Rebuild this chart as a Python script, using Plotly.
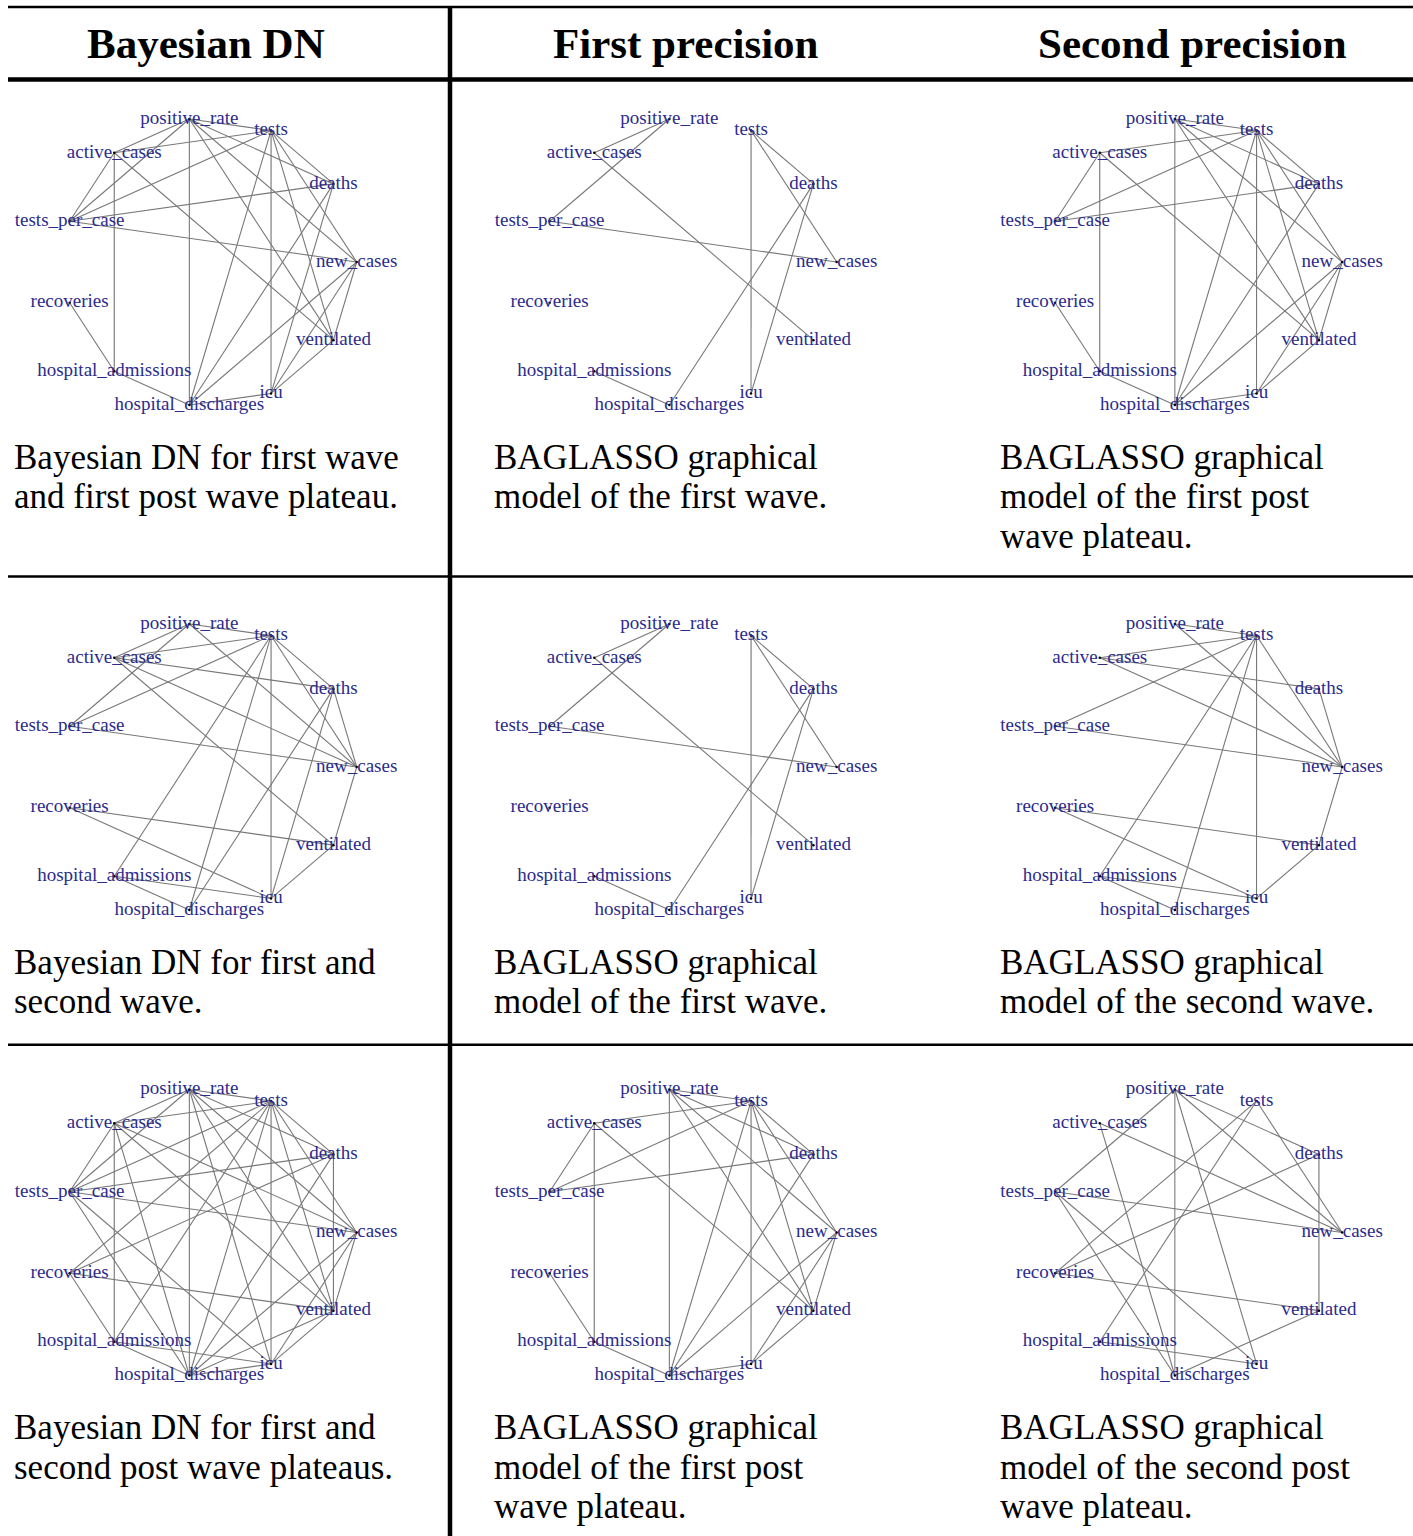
import math
import plotly.graph_objects as go

# ---------------- data ----------------
nodes = ["positive_rate", "tests", "deaths", "new_cases", "ventilated", "icu",
         "hospital_discharges", "hospital_admissions", "recoveries",
         "tests_per_case", "active_cases"]

headers = ["Bayesian DN", "First precision", "Second precision"]

edges_r1c1 = [("positive_rate", "active_cases"), ("positive_rate", "tests_per_case"), ("positive_rate", "tests"),
              ("positive_rate", "hospital_discharges"), ("positive_rate", "deaths"), ("positive_rate", "new_cases"),
              ("positive_rate", "ventilated"), ("active_cases", "tests"), ("active_cases", "tests_per_case"),
              ("active_cases", "hospital_admissions"), ("active_cases", "ventilated"), ("tests", "tests_per_case"),
              ("tests", "deaths"), ("tests", "icu"), ("tests", "hospital_discharges"), ("tests", "ventilated"),
              ("tests", "new_cases"), ("tests_per_case", "deaths"), ("tests_per_case", "new_cases"),
              ("deaths", "hospital_discharges"), ("deaths", "icu"), ("new_cases", "hospital_discharges"),
              ("new_cases", "icu"), ("new_cases", "ventilated"), ("ventilated", "icu"),
              ("recoveries", "hospital_admissions"), ("hospital_admissions", "hospital_discharges"),
              ("hospital_discharges", "icu")]

edges_r1c2 = [("positive_rate", "active_cases"), ("positive_rate", "tests_per_case"), ("active_cases", "ventilated"),
              ("tests_per_case", "new_cases"), ("tests", "icu"), ("tests", "deaths"), ("tests", "new_cases"),
              ("deaths", "hospital_discharges"), ("deaths", "icu"), ("hospital_admissions", "hospital_discharges")]

edges_r1c3 = [("positive_rate", "tests"), ("positive_rate", "hospital_discharges"), ("positive_rate", "deaths"),
              ("positive_rate", "new_cases"), ("positive_rate", "ventilated"), ("active_cases", "tests"),
              ("active_cases", "tests_per_case"), ("active_cases", "hospital_admissions"), ("active_cases", "ventilated"),
              ("tests", "tests_per_case"), ("tests", "deaths"), ("tests", "icu"), ("tests", "hospital_discharges"),
              ("tests", "ventilated"), ("tests", "new_cases"), ("tests_per_case", "deaths"),
              ("deaths", "hospital_discharges"), ("new_cases", "hospital_discharges"), ("new_cases", "icu"),
              ("new_cases", "ventilated"), ("ventilated", "icu"), ("recoveries", "hospital_admissions"),
              ("hospital_admissions", "hospital_discharges"), ("hospital_discharges", "icu")]

edges_r2c1 = [("positive_rate", "active_cases"), ("positive_rate", "tests_per_case"), ("positive_rate", "tests"),
              ("positive_rate", "new_cases"), ("active_cases", "tests"), ("active_cases", "deaths"),
              ("active_cases", "new_cases"), ("active_cases", "ventilated"), ("tests", "tests_per_case"),
              ("tests", "deaths"), ("tests", "new_cases"), ("tests", "icu"), ("tests", "hospital_admissions"),
              ("tests", "hospital_discharges"), ("tests_per_case", "new_cases"), ("deaths", "new_cases"),
              ("deaths", "hospital_discharges"), ("deaths", "icu"), ("new_cases", "ventilated"),
              ("ventilated", "icu"), ("recoveries", "ventilated"), ("recoveries", "icu"),
              ("hospital_admissions", "icu"), ("hospital_admissions", "hospital_discharges")]

edges_r2c2 = list(edges_r1c2)

edges_r2c3 = [("positive_rate", "tests"), ("positive_rate", "new_cases"), ("active_cases", "tests"),
              ("active_cases", "deaths"), ("active_cases", "new_cases"), ("tests", "tests_per_case"),
              ("tests", "new_cases"), ("tests", "icu"), ("tests", "hospital_admissions"),
              ("tests", "hospital_discharges"), ("tests_per_case", "new_cases"), ("deaths", "new_cases"),
              ("new_cases", "ventilated"), ("ventilated", "icu"), ("recoveries", "ventilated"),
              ("recoveries", "icu"), ("hospital_admissions", "icu"), ("hospital_admissions", "hospital_discharges")]

edges_r3c1 = [("positive_rate", "active_cases"), ("positive_rate", "tests_per_case"), ("positive_rate", "tests"),
              ("positive_rate", "hospital_discharges"), ("positive_rate", "deaths"), ("positive_rate", "new_cases"),
              ("positive_rate", "ventilated"), ("positive_rate", "icu"), ("active_cases", "tests"),
              ("active_cases", "tests_per_case"), ("active_cases", "hospital_admissions"),
              ("active_cases", "hospital_discharges"), ("active_cases", "new_cases"), ("active_cases", "ventilated"),
              ("tests", "tests_per_case"), ("tests", "deaths"), ("tests", "new_cases"), ("tests", "ventilated"),
              ("tests", "icu"), ("tests", "hospital_discharges"), ("tests", "hospital_admissions"),
              ("tests", "recoveries"), ("tests_per_case", "deaths"), ("tests_per_case", "new_cases"),
              ("tests_per_case", "hospital_discharges"), ("tests_per_case", "icu"), ("deaths", "ventilated"),
              ("deaths", "hospital_discharges"), ("deaths", "recoveries"), ("new_cases", "ventilated"),
              ("new_cases", "icu"), ("new_cases", "hospital_discharges"), ("ventilated", "icu"),
              ("ventilated", "hospital_discharges"), ("ventilated", "recoveries"),
              ("recoveries", "hospital_admissions"), ("hospital_admissions", "icu"),
              ("hospital_admissions", "hospital_discharges"), ("hospital_discharges", "icu")]

edges_r3c2 = [("positive_rate", "tests"), ("positive_rate", "hospital_discharges"), ("positive_rate", "deaths"),
              ("positive_rate", "new_cases"), ("positive_rate", "ventilated"), ("active_cases", "tests"),
              ("active_cases", "tests_per_case"), ("active_cases", "hospital_admissions"), ("active_cases", "ventilated"),
              ("tests", "tests_per_case"), ("tests", "deaths"), ("tests", "icu"), ("tests", "hospital_discharges"),
              ("tests", "ventilated"), ("tests", "new_cases"), ("tests_per_case", "deaths"),
              ("deaths", "hospital_discharges"), ("new_cases", "hospital_discharges"), ("new_cases", "icu"),
              ("new_cases", "ventilated"), ("ventilated", "icu"), ("recoveries", "hospital_admissions"),
              ("hospital_admissions", "hospital_discharges"), ("hospital_discharges", "icu")]

edges_r3c3 = [("positive_rate", "tests_per_case"), ("positive_rate", "hospital_discharges"), ("positive_rate", "deaths"),
              ("positive_rate", "new_cases"), ("positive_rate", "icu"), ("active_cases", "new_cases"),
              ("active_cases", "hospital_discharges"), ("tests", "new_cases"), ("tests", "recoveries"),
              ("tests", "hospital_admissions"), ("tests_per_case", "new_cases"), ("tests_per_case", "hospital_discharges"),
              ("tests_per_case", "icu"), ("deaths", "ventilated"), ("deaths", "recoveries"),
              ("recoveries", "ventilated"), ("hospital_admissions", "icu"), ("ventilated", "hospital_discharges")]

captions_r1 = [["Bayesian DN for first wave", "and first post wave plateau."],
               ["BAGLASSO graphical", "model of the first wave."],
               ["BAGLASSO graphical", "model of the first post", "wave plateau."]]
captions_r2 = [["Bayesian DN for first and", "second wave."],
               ["BAGLASSO graphical", "model of the first wave."],
               ["BAGLASSO graphical", "model of the second wave."]]
captions_r3 = [["Bayesian DN for first and", "second post wave plateaus."],
               ["BAGLASSO graphical", "model of the first post", "wave plateau."],
               ["BAGLASSO graphical", "model of the second post", "wave plateau."]]

# ---------------- layout constants ----------------
W, H = 1413, 1536
COL_OFF = [0, 480, 985.5]
ROW_OFF = [0, 505, 970.5]
CX, CY, RX, RY, THETA0 = 210.2, 262.0, 146.5, 144.5, -8.18
CAP_X0, CAP_Y0, CAP_DY = 12, 457, 39.5
HEAD_X = [206, 686, 1192]
HEAD_Y = 43
EDGE_COLOR = "rgb(120,120,120)"
LABEL_COLOR = "#2b2b8c"

grid_edges = [[edges_r1c1, edges_r1c2, edges_r1c3],
              [edges_r2c1, edges_r2c2, edges_r2c3],
              [edges_r3c1, edges_r3c2, edges_r3c3]]
grid_caps = [captions_r1, captions_r2, captions_r3]

n = len(nodes)
step = 360.0 / n


def node_pos(name, r, c):
    i = nodes.index(name)
    th = math.radians(THETA0 + i * step)
    return (CX + COL_OFF[c] + RX * math.sin(th), CY + ROW_OFF[r] - RY * math.cos(th))


fig = go.Figure()

for r in range(3):
    for c in range(3):
        ex, ey = [], []
        for a, b in grid_edges[r][c]:
            xa, ya = node_pos(a, r, c)
            xb, yb = node_pos(b, r, c)
            ex += [xa, xb, None]
            ey += [ya, yb, None]
        fig.add_trace(go.Scatter(x=ex, y=ey, mode="lines",
                                 line=dict(color=EDGE_COLOR, width=1.1),
                                 hoverinfo="skip", showlegend=False))
        pts = [node_pos(nm, r, c) for nm in nodes]
        fig.add_trace(go.Scatter(x=[p[0] for p in pts], y=[p[1] for p in pts],
                                 mode="markers+text", text=nodes,
                                 textposition="middle center",
                                 marker=dict(size=2.5, color="black"),
                                 textfont=dict(family="Liberation Serif", size=19, color=LABEL_COLOR),
                                 hoverinfo="skip", showlegend=False))

annotations = []
for c, h in enumerate(headers):
    annotations.append(dict(x=HEAD_X[c], y=HEAD_Y, xref="x", yref="y", text="<b>%s</b>" % h,
                            showarrow=False, xanchor="center", yanchor="middle",
                            font=dict(family="Liberation Serif", size=43, color="black")))
for r in range(3):
    for c in range(3):
        for k, line in enumerate(grid_caps[r][c]):
            annotations.append(dict(x=CAP_X0 + COL_OFF[c], y=CAP_Y0 + ROW_OFF[r] + k * CAP_DY,
                                    xref="x", yref="y", text=line, showarrow=False,
                                    xanchor="left", yanchor="middle",
                                    font=dict(family="Liberation Serif", size=35, color="black")))

shapes = [
    dict(type="line", xref="x", yref="y", x0=8, x1=W, y0=7, y1=7, line=dict(color="black", width=2.5)),
    dict(type="line", xref="x", yref="y", x0=8, x1=W, y0=79.5, y1=79.5, line=dict(color="black", width=4.5)),
    dict(type="line", xref="x", yref="y", x0=8, x1=W, y0=576.5, y1=576.5, line=dict(color="black", width=2.5)),
    dict(type="line", xref="x", yref="y", x0=8, x1=W, y0=1044.7, y1=1044.7, line=dict(color="black", width=2.5)),
    dict(type="line", xref="x", yref="y", x0=450, x1=450, y0=6, y1=H, line=dict(color="black", width=4.5)),
]

fig.update_layout(
    width=W, height=H, margin=dict(l=0, r=0, t=0, b=0),
    paper_bgcolor="white", plot_bgcolor="white",
    xaxis=dict(range=[0, W], visible=False, fixedrange=True),
    yaxis=dict(range=[H, 0], visible=False, fixedrange=True),
    annotations=annotations, shapes=shapes, showlegend=False,
)

fig.write_html("out.html")
